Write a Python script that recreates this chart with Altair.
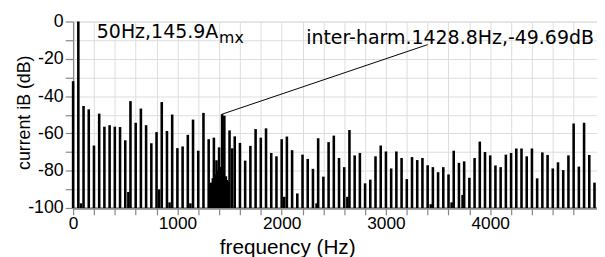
import altair as alt
import pandas as pd

# harmonic spectrum lines every 50 Hz (0 .. 5000 Hz)
harm_freq = list(range(0, 5001, 50))
harm_db = [
    -32.0, 0.0, -45.3, -47.1, -66.5, -49.4, -56.4, -55.6, -56.4, -56.6,
    -63.7, -42.7, -54.3, -46.7, -55.6, -65.3, -59.3, -43.2, -58.7, -49.9,
    -67.9, -67.0, -60.8, -52.6, -69.3, -49.0, -63.1, -62.3, -67.5, -50.5,
    -58.4, -61.6, -65.1, -74.6, -66.7, -57.7, -62.3, -57.3, -70.5, -72.3,
    -63.1, -61.7, -69.0, -92.2, -71.4, -73.7, -79.0, -62.6, -83.2, -64.7,
    -61.2, -73.2, -78.1, -58.2, -71.8, -70.5, -86.8, -84.8, -72.3, -66.5,
    -69.7, -78.8, -69.7, -73.2, -84.5, -72.7, -74.3, -73.2, -77.1, -78.1,
    -80.8, -78.1, -82.0, -69.3, -75.8, -75.0, -83.8, -73.2, -64.4, -70.0,
    -71.8, -77.2, -78.1, -71.4, -70.5, -68.1, -68.1, -72.3, -68.1, -84.1,
    -70.2, -71.6, -78.8, -75.5, -79.7, -71.8, -54.7, -77.8, -54.3, -71.6,
    -86.4,
]

# inter-harmonic lines
ih_freq = [75, 530, 825, 925, 1125, 1310, 1325, 1340, 1365, 1375, 1390, 1415,
           1428.8, 1440, 1465, 1475, 1490, 1525, 2025, 2335, 2630, 3430, 3630, 3735]
ih_db = [-97.5, -91.4, -90.0, -97.0, -97.5, -88.0, -86.4, -84.0, -82.0, -74.4, -80.0, -78.0,
         -49.69, -80.0, -83.0, -85.0, -86.0, -68.0, -94.0, -97.5, -94.0, -98.0, -97.0, -93.0]

x_ticks = list(range(0, 4801, 200))
y_ticks = list(range(-100, 1, 10))

FONT = "DejaVu Sans"

df = pd.DataFrame({"f": harm_freq + ih_freq, "db": harm_db + ih_db})
df["base"] = -100.0

x_scale = alt.Scale(domain=[0, 5024], nice=False, zero=False)
y_scale = alt.Scale(domain=[-100, 0], nice=False, zero=False)

x_axis = alt.Axis(
    values=x_ticks,
    labelExpr="datum.value % 1000 === 0 ? '' + datum.value : ''",
    tickSize=7, tickWidth=1.2, labelPadding=0, labelFontSize=17.5,
    labelOverlap=False, labelFlush=False, domainWidth=2.5,
    titleFontSize=21, titleX=217, titleY=46, titleAlign="center",
    titleBaseline="alphabetic", titleFontWeight="normal",
)
y_axis = alt.Axis(
    values=y_ticks,
    labelExpr="datum.value % 20 === 0 ? '' + datum.value : ''",
    tickSize=8, tickWidth=1.2, labelPadding=2, labelFontSize=18,
    labelOverlap=False, labelFlush=False, domainWidth=1.3,
    titleFontSize=18, titleX=-40, titleY=92, titleAngle=270,
    titleAlign="center", titleBaseline="bottom", titleFontWeight="normal",
)

X = lambda field="f": alt.X(f"{field}:Q", scale=x_scale, axis=x_axis, title="frequency (Hz)")
Y = lambda field="db": alt.Y(f"{field}:Q", scale=y_scale, axis=y_axis, title="current iB (dB)")

bars = alt.Chart(df).mark_rule(color="black", strokeWidth=2.6, strokeCap="butt").encode(
    x=X(), y=Y(), y2="base:Q"
)

# leader line for the inter-harmonic annotation
lead = pd.DataFrame({"f": [1428.8], "db": [-49.69], "f2": [3400], "db2": [-12.4]})
leader = alt.Chart(lead).mark_rule(color="black", strokeWidth=1).encode(
    x=X(), y=Y(), x2="f2:Q", y2="db2:Q"
)

txt_main = pd.DataFrame({"f": [227, 2235], "db": [-8.8, -12.2],
                         "t": ["50Hz,145.9A", "inter-harm.1428.8Hz,-49.69dB"]})
texts = alt.Chart(txt_main).mark_text(
    align="left", baseline="alphabetic", font=FONT, fontSize=19.2, color="black"
).encode(x=X(), y=Y(), text="t:N")

txt_sub = pd.DataFrame({"f": [1400], "db": [-11.4], "t": ["mx"]})
sub = alt.Chart(txt_sub).mark_text(
    align="left", baseline="alphabetic", font=FONT, fontSize=16, color="black"
).encode(x=X(), y=Y(), text="t:N")

chart = alt.layer(bars, leader, texts, sub).properties(
    width=531, height=189,
    autosize=alt.AutoSizeParams(type="none"),
    padding={"left": 66, "top": 12, "right": 0, "bottom": 48},
).configure_view(stroke=None).configure_axis(
    grid=False, domainColor="black", tickColor="black", labelColor="black",
    titleColor="black", labelFont=FONT, titleFont=FONT,
).configure(background="white")

chart.save("out.html", embed_options={"renderer": "svg", "actions": False})
